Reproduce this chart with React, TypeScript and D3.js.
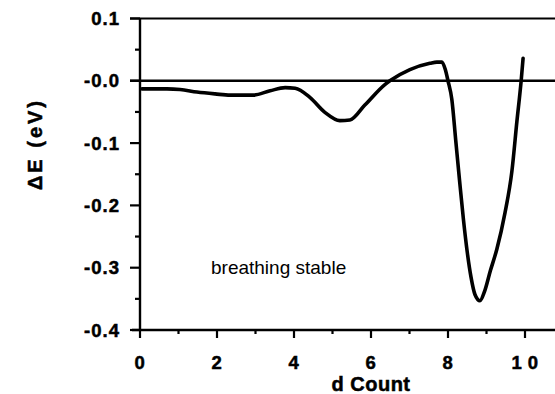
import React from "react";
import * as d3 from "d3";

const dCount = [0.05, 0.7, 1.04, 1.48, 1.95, 2.34, 2.94, 3.38, 3.77, 4.03, 4.42, 4.81, 5.19, 5.45, 5.84, 6.36, 6.49, 7.01, 7.53, 7.71, 7.84, 7.93, 8.0, 8.1, 8.2, 8.3, 8.4, 8.5, 8.6, 8.7, 8.83, 8.95, 9.1, 9.27, 9.48, 9.66, 9.79, 9.9, 9.95];
const deltaE = [-0.013, -0.013, -0.014, -0.018, -0.021, -0.023, -0.023, -0.016, -0.011, -0.012, -0.027, -0.051, -0.064, -0.063, -0.039, -0.006, 0.0, 0.018, 0.028, 0.03, 0.03, 0.018, 0.0, -0.03, -0.095, -0.16, -0.222, -0.275, -0.316, -0.343, -0.353, -0.338, -0.305, -0.27, -0.212, -0.145, -0.065, 0.0, 0.036];

const xMajorTicks = [0, 2, 4, 6, 8, 10];
const xMajorLabels = ["0", "2", "4", "6", "8", "1 0"];
const xMinorTicks = [1, 3, 5, 7, 9];
const yMajorTicks = [0.1, 0, -0.1, -0.2, -0.3, -0.4];
const yMajorLabels = ["0.1", "-0.0", "-0.1", "-0.2", "-0.3", "-0.4"];
const yMinorTicks = [0.05, -0.05, -0.15, -0.25, -0.35];

const xTitle = "d Count";
const yTitle = "ΔE (eV)";
const annotation = "breathing stable";

const W = 555;
const H = 394;

export default function App() {
  const x = d3.scaleLinear().domain([0, 10]).range([140, 525]);
  const y = d3.scaleLinear().domain([0.1, -0.4]).range([18.5, 330]);
  const pts: [number, number][] = dCount.map((d, i) => [d, deltaE[i]]);
  const line = d3
    .line<[number, number]>()
    .x((p) => x(p[0]))
    .y((p) => y(p[1]))
    .curve(d3.curveMonotoneX);
  const font = "'Liberation Sans', Arial, Helvetica, sans-serif";
  const axisX = x(0);
  const baseY = y(-0.4);
  const heavy = { stroke: "#000", strokeWidth: 0.5 };
  return (
    <svg
      width={W}
      height={H}
      style={{ position: "fixed", left: 0, top: 0, background: "#fff" }}
      fontFamily={font}
    >
      <rect width={W} height={H} fill="#fff" />
      <line x1={axisX - 10} x2={W} y1={y(0.1)} y2={y(0.1)} stroke="#000" strokeWidth={2.2} />
      <line x1={axisX - 10} x2={W} y1={y(0)} y2={y(0)} stroke="#000" strokeWidth={2.4} />
      <line x1={axisX} x2={axisX} y1={y(0.1)} y2={baseY} stroke="#000" strokeWidth={2.4} />
      <line x1={axisX - 8} x2={W} y1={baseY} y2={baseY} stroke="#000" strokeWidth={2.4} />
      {yMajorTicks.map((t, i) => (
        <g key={"ym" + i}>
          <line x1={axisX - 10} x2={axisX} y1={y(t)} y2={y(t)} stroke="#000" strokeWidth={2.2} />
          <text
            x={120}
            y={y(t)}
            dy="0.36em"
            textAnchor="end"
            fontSize={18.5}
            fontWeight="bold"
            letterSpacing={1}
            {...heavy}
          >
            {yMajorLabels[i]}
          </text>
        </g>
      ))}
      {yMinorTicks.map((t, i) => (
        <line key={"yn" + i} x1={axisX - 5} x2={axisX} y1={y(t)} y2={y(t)} stroke="#000" strokeWidth={2.2} />
      ))}
      {xMajorTicks.map((t, i) => (
        <g key={"xm" + i}>
          <line x1={x(t)} x2={x(t)} y1={baseY} y2={baseY + 8} stroke="#000" strokeWidth={2.2} />
          <text
            x={x(t)}
            y={369}
            textAnchor="middle"
            fontSize={18.5}
            fontWeight="bold"
            letterSpacing={0.5}
            {...heavy}
          >
            {xMajorLabels[i]}
          </text>
        </g>
      ))}
      {xMinorTicks.map((t, i) => (
        <line key={"xn" + i} x1={x(t)} x2={x(t)} y1={baseY} y2={baseY + 4} stroke="#000" strokeWidth={2.2} />
      ))}
      <path d={line(pts) || ""} fill="none" stroke="#000" strokeWidth={3.6} strokeLinejoin="round" strokeLinecap="round" />
      <text x={371} y={390.5} textAnchor="middle" fontSize={20} fontWeight="bold" letterSpacing={0.5} {...heavy}>
        {xTitle}
      </text>
      <text
        transform="translate(42,144) rotate(-90)"
        textAnchor="middle"
        fontSize={20}
        fontWeight="bold"
        letterSpacing={3}
        {...heavy}
      >
        {yTitle}
      </text>
      <text x={211} y={274} fontSize={19}>
        {annotation}
      </text>
    </svg>
  );
}
